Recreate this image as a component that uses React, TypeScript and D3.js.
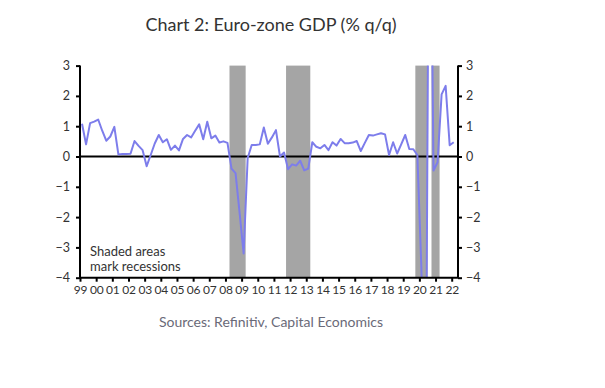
import * as d3 from 'd3'
import { useEffect, useRef } from 'react'

// Euro-zone GDP, % q/q, quarterly from 1999Q1
const startYear = 1999
const gdp = [
  1.08, 0.4, 1.1, 1.15, 1.22, 0.85, 0.52, 0.66, 0.98, 0.07,
  0.08, 0.08, 0.09, 0.51, 0.35, 0.21, -0.32, 0.05, 0.43, 0.71,
  0.47, 0.57, 0.22, 0.36, 0.2, 0.58, 0.71, 0.63, 0.85, 1.06,
  0.57, 1.15, 0.6, 0.69, 0.46, 0.5, 0.45, -0.4, -0.55, -1.85,
  -3.2, -0.05, 0.38, 0.38, 0.4, 0.96, 0.42, 0.63, 0.87, 0.0,
  0.13, -0.42, -0.26, -0.3, -0.14, -0.46, -0.4, 0.47, 0.32, 0.27,
  0.38, 0.21, 0.47, 0.36, 0.58, 0.44, 0.44, 0.46, 0.51, 0.18,
  0.45, 0.71, 0.69, 0.73, 0.77, 0.73, 0.05, 0.47, 0.1, 0.4,
  0.71, 0.25, 0.24, 0.05, -3.7, -11.7, 12.6, -0.46, -0.19, 2.05,
  2.33, 0.37, 0.47,
]

// recessions as [first quarter, last quarter]
const recessions = [
  ['2008Q2', '2009Q1'],
  ['2011Q4', '2013Q1'],
  ['2019Q4', '2020Q2'],
  ['2020Q4', '2021Q1'],
]

const yearTicks = d3.range(1999, 2023)
const yearLabels = ['99', '00', '01', '02', '03', '04', '05', '06', '07', '08', '09', '10',
  '11', '12', '13', '14', '15', '16', '17', '18', '19', '20', '21', '22']
const yTicks = [3, 2, 1, 0, -1, -2, -3, -4]

const W = 605
const H = 388
const font = 'Lato, "Noto Sans", sans-serif'

const qStart = (q: string) => +q.slice(0, 4) + (+q.slice(5) - 1) / 4

export default function App() {
  const ref = useRef<SVGSVGElement>(null)

  useEffect(() => {
    const svg = d3.select(ref.current)
    svg.selectAll('*').remove()

    const left = 80
    const right = 458
    const top = 65.6
    const bottom = 277.7

    const x = d3.scaleLinear().domain([1999, 2022.39]).range([left, right])
    const y = d3.scaleLinear().domain([-4, 3]).range([bottom, top])

    svg.append('rect').attr('width', W).attr('height', H).attr('fill', '#fff')

    // title
    svg.append('text')
      .attr('x', 271).attr('y', 31)
      .attr('text-anchor', 'middle')
      .attr('font-family', font).attr('font-size', 18)
      .attr('fill', '#333')
      .text('Chart 2: Euro-zone GDP (% q/q)')

    // recession shading
    svg.append('g').selectAll('rect')
      .data(recessions)
      .enter().append('rect')
      .attr('x', d => x(qStart(d[0])))
      .attr('width', d => x(qStart(d[1]) + 0.25) - x(qStart(d[0])))
      .attr('y', top)
      .attr('height', bottom - top)
      .attr('fill', '#a5a5a5')

    svg.append('defs').append('clipPath').attr('id', 'plot')
      .append('rect')
      .attr('x', left).attr('y', top)
      .attr('width', right - left).attr('height', bottom - top)

    // zero line
    svg.append('line')
      .attr('x1', left).attr('x2', right)
      .attr('y1', y(0)).attr('y2', y(0))
      .attr('stroke', '#000').attr('stroke-width', 2)

    const line = d3.line<number>()
      .x((d, i) => x(startYear + i / 4 + 0.125))
      .y(d => y(d))

    svg.append('path')
      .datum(gdp)
      .attr('clip-path', 'url(#plot)')
      .attr('d', line)
      .attr('fill', 'none')
      .attr('stroke', '#7d7deb')
      .attr('stroke-width', 2)
      .attr('stroke-linejoin', 'round')

    // left axis
    const gl = svg.append('g').attr('transform', `translate(${left},0)`)
      .call(d3.axisLeft(y).tickValues(yTicks).tickSize(4).tickPadding(6).tickFormat(d3.format('d')))
    // right axis
    const gr = svg.append('g').attr('transform', `translate(${right},0)`)
      .call(d3.axisRight(y).tickValues(yTicks).tickSize(4).tickPadding(4).tickFormat(d3.format('d')))
    // bottom axis
    const gb = svg.append('g').attr('transform', `translate(0,${bottom})`)
      .call(d3.axisBottom(x).tickValues(yearTicks).tickSize(4).tickPadding(4)
        .tickFormat((d, i) => yearLabels[i]))

    for (const g of [gl, gr, gb]) {
      g.select('.domain').attr('stroke', '#000').attr('stroke-width', 2)
      g.selectAll('.tick line').attr('stroke', '#000').attr('stroke-width', 2)
      g.selectAll('.tick text')
        .attr('font-family', font).attr('font-size', 12.5).attr('fill', '#333')
    }
    gb.selectAll('.tick text').attr('font-size', 12).attr('letter-spacing', -0.2)
    gb.select('.domain').attr('d', `M${left},0H${right}`)
    gl.select('.domain').attr('d', `M0,${top}V${bottom}`)
    gr.select('.domain').attr('d', `M0,${top}V${bottom}`)

    // note
    const note = svg.append('text')
      .attr('font-family', font).attr('font-size', 13).attr('fill', '#333')
    note.append('tspan').attr('x', 90).attr('y', 256).text('Shaded areas')
    note.append('tspan').attr('x', 90).attr('y', 270.5).text('mark recessions')

    // source
    svg.append('text')
      .attr('x', 271).attr('y', 327)
      .attr('text-anchor', 'middle')
      .attr('font-family', font).attr('font-size', 14)
      .attr('fill', '#6a6a78')
      .text('Sources: Refinitiv, Capital Economics')
  }, [])

  return (
    <svg ref={ref} width={W} height={H}
      style={{ position: 'absolute', left: 0, top: 0, display: 'block' }} />
  )
}
